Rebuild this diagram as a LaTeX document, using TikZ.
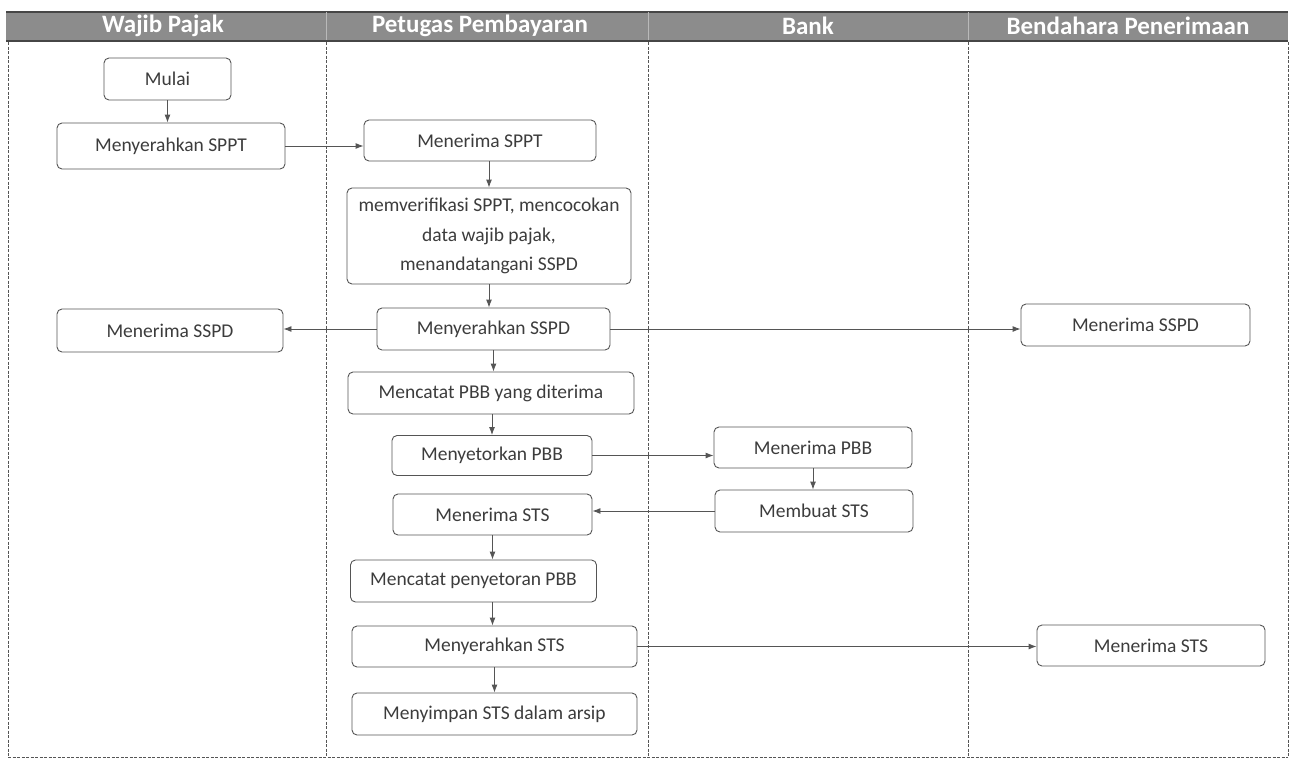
\documentclass[tikz,border=0pt]{standalone}
\usepackage{fontspec}
\setmainfont{Carlito}
\usetikzlibrary{arrows.meta}
\definecolor{hdr}{RGB}{140,140,140}
\definecolor{hdrdark}{RGB}{70,70,70}
\definecolor{txt}{RGB}{60,60,60}
\definecolor{ln}{RGB}{85,85,85}
\begin{document}
\begin{tikzpicture}[x=1pt,y=-1pt,
  box/.style={draw=ln, line width=0.9pt, rounded corners=5pt, align=center,
    text=txt, font=\fontsize{19.5}{29.5}\selectfont, inner sep=0pt},
  arr/.style={draw=ln, line width=0.9pt, -{Latex[length=8pt,width=6pt]}},
  lane/.style={draw=ln, line width=0.7pt, dash pattern=on 3pt off 1.5pt},
  hd/.style={text=white, font=\fontsize{25}{28}\selectfont\bfseries}]
\useasboundingbox (0,0) rectangle (1291,761);
% header bar
\fill[hdr] (6,12) rectangle (1288,41);
\draw[hdrdark, line width=1.2pt] (6,12) -- (1288,12);
\draw[hdrdark, line width=2pt] (6,41) -- (1288,41);
\foreach \x in {326,648,968}{\draw[gray!55, line width=0.6pt] (\x,12) -- (\x,40);}
\node[hd] (hwp) at (163,26) {Wajib Pajak};
\node[hd] (hpp) at (480,26) {Petugas Pembayaran};
\node[hd] (hbk) at (808,26) {Bank};
\node[hd] (hbp) at (1128,26) {Bendahara Penerimaan};
% lanes
\foreach \x in {8,326,648,968,1288}{\draw[lane] (\x,42) -- (\x,757);}
\draw[lane] (8,757) -- (1288,757);
% boxes
\node[box, minimum width=127pt, minimum height=42pt] (mulai) at (167.5,79) {Mulai};
\node[box, minimum width=228pt, minimum height=46pt] (sppt1) at (171,146) {Menyerahkan SPPT};
\node[box, minimum width=232pt, minimum height=41pt] (sppt2) at (480,140.5) {Menerima SPPT};
\node[box, minimum width=284pt, minimum height=96pt] (verif) at (489,236) {memverifikasi SPPT, mencocokan\\data wajib pajak,\\menandatangani SSPD};
\node[box, minimum width=233pt, minimum height=42pt] (sspd1) at (493.5,329) {Menyerahkan SSPD};
\node[box, minimum width=226pt, minimum height=43pt] (sspdw) at (170,330.5) {Menerima SSPD};
\node[box, minimum width=229pt, minimum height=42pt] (sspdb) at (1135.5,325) {Menerima SSPD};
\node[box, minimum width=286pt, minimum height=42pt] (catat) at (491,393) {Mencatat PBB yang diterima};
\node[box, minimum width=200pt, minimum height=40pt] (setor) at (492,455.5) {Menyetorkan PBB};
\node[box, minimum width=198pt, minimum height=41pt] (pbb) at (813,447.5) {Menerima PBB};
\node[box, minimum width=198pt, minimum height=42pt] (buat) at (814,511) {Membuat STS};
\node[box, minimum width=199pt, minimum height=41pt] (stsp) at (492.5,514.5) {Menerima STS};
\node[box, minimum width=246pt, minimum height=42pt] (catat2) at (473.5,581) {Mencatat penyetoran PBB};
\node[box, minimum width=285pt, minimum height=41pt] (sts1) at (494.5,646.5) {Menyerahkan STS};
\node[box, minimum width=228pt, minimum height=41pt] (stsb) at (1151,645.5) {Menerima STS};
\node[box, minimum width=285pt, minimum height=42pt] (simpan) at (494.5,714) {Menyimpan STS dalam arsip};
% connectors
\draw[arr] (mulai.south) -- (mulai.south |- sppt1.north);
\draw[arr] (sppt1.east) -- (sppt1.east -| sppt2.west);
\draw[arr] (verif.north |- sppt2.south) -- (verif.north);
\draw[arr] (verif.south) -- (verif.south |- sspd1.north);
\draw[arr] (sspd1.west) -- (sspd1.west -| sspdw.east);
\draw[arr] (sspd1.east) -- (sspd1.east -| sspdb.west);
\draw[arr] (sspd1.south) -- (sspd1.south |- catat.north);
\draw[arr] (setor.north |- catat.south) -- (setor.north);
\draw[arr] (setor.east) -- (setor.east -| pbb.west);
\draw[arr] (pbb.south) -- (pbb.south |- buat.north);
\draw[arr] (buat.west) -- (buat.west -| stsp.east);
\draw[arr] (stsp.south) -- (stsp.south |- catat2.north);
\draw[arr] (stsp.south |- catat2.south) -- (stsp.south |- sts1.north);
\draw[arr] (sts1.east) -- (sts1.east -| stsb.west);
\draw[arr] (sts1.south) -- (sts1.south |- simpan.north);
\end{tikzpicture}
\end{document}
